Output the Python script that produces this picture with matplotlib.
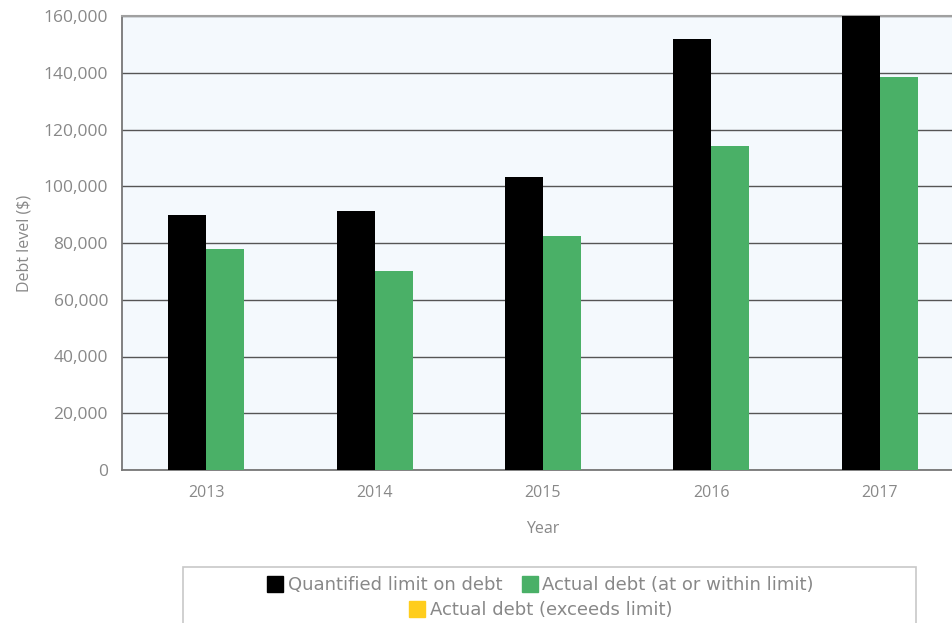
import numpy as np
import matplotlib.pyplot as plt
from matplotlib.patches import Rectangle
from matplotlib.lines import Line2D

years = ["2013", "2014", "2015", "2016", "2017"]
limit_debt = [89900, 91300, 103300, 151900, 160000]
actual_within = [77900, 70100, 82500, 114200, 138500]
actual_exceeds = [0, 0, 0, 0, 0]

BLACK = "#000000"
GREEN = "#4AB067"
YELLOW = "#FFCD1C"
TXT = "#888888"

plt.rcParams["font.family"] = ["Open Sans", "DejaVu Sans"]

fig = plt.figure(figsize=(9.53, 6.23), dpi=100)
# axes runs a bit past the right edge, as in the original
ax = fig.add_axes([122 / 953, 1 - 470 / 623, 842 / 953, 454 / 623])
ax.set_facecolor("#F4F9FD")

x = np.arange(len(years))
w = 0.226
ax.bar(x - w / 2, limit_debt, w, color=BLACK, zorder=3)
ax.bar(x + w / 2, actual_within, w, color=GREEN, zorder=3)
ax.bar(x + w / 2, actual_exceeds, w, color=YELLOW, zorder=3)

ax.set_xlim(-0.5, len(years) - 0.5)
ax.set_ylim(0, 160000)
ax.set_yticks(np.arange(0, 160001, 20000))
ax.yaxis.set_major_formatter(plt.FuncFormatter(lambda v, p: f"{int(v):,}"))
ax.set_xticks(x)
ax.set_xticklabels(years)
ax.grid(axis="y", color="#555555", lw=1.0, zorder=1)
ax.tick_params(axis="both", length=0, colors=TXT)
ax.tick_params(axis="x", pad=11, labelsize=11.5)
ax.tick_params(axis="y", pad=10, labelsize=12.5)

for s in ["left", "bottom"]:
    ax.spines[s].set_color("#777777")
    ax.spines[s].set_linewidth(1.3)
ax.spines["top"].set_color("#A0A0A0")
ax.spines["top"].set_linewidth(1.5)
ax.spines["right"].set_visible(False)

ax.set_xlabel("Year", fontsize=11.5, color=TXT, labelpad=14)
ax.set_ylabel("Debt level ($)", fontsize=11.5, color=TXT, labelpad=8)

# legend box
fig.patches.append(Rectangle((183 / 953, -0.05), (916 - 183) / 953, 0.05 + (623 - 567) / 623,
                             transform=fig.transFigure, fill=False,
                             edgecolor="#C8C8C8", lw=1.2))

def sq(c):
    return Line2D([], [], marker="s", markersize=12, color=c, lw=0)

lfont = {"family": ["Liberation Sans Narrow", "DejaVu Sans"], "size": 13}
fig.legend([sq(BLACK), sq(GREEN)],
           ["Quantified limit on debt", "Actual debt (at or within limit)"],
           loc="center", bbox_to_anchor=(540 / 953, 1 - 585 / 623), ncol=2,
           frameon=False, prop=lfont, labelcolor=TXT, handletextpad=0.2,
           columnspacing=1.0, handlelength=1.0)
fig.legend([sq(YELLOW)], ["Actual debt (exceeds limit)"],
           loc="center", bbox_to_anchor=(540 / 953, 1 - 610 / 623),
           frameon=False, prop=lfont, labelcolor=TXT, handletextpad=0.2,
           handlelength=1.0)

fig.savefig("out.png", dpi=100)
